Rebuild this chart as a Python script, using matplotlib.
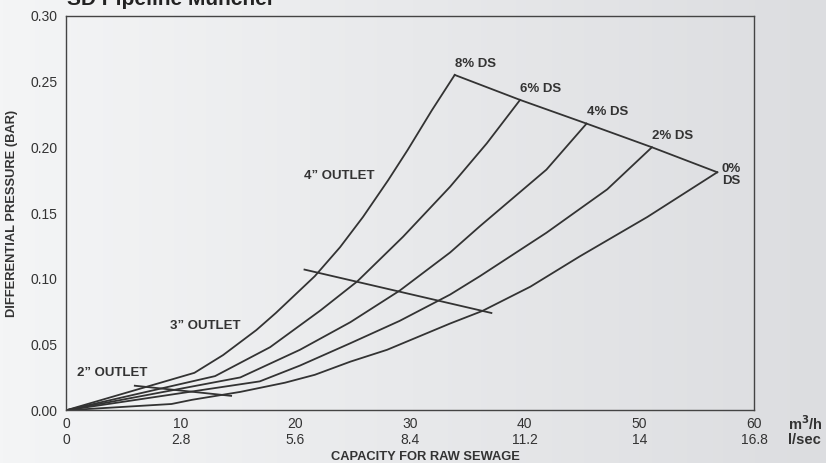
import numpy as np
import matplotlib
matplotlib.use('Agg')
import matplotlib.pyplot as plt

plt.rcParams['font.family'] = ['Liberation Sans', 'DejaVu Sans']

# capacity (m3/h) and differential pressure (bar)
x_8 = [0, 11.2, 13.7, 16.6, 18.3, 21.7, 23.9, 25.9, 28.1, 29.8, 31.9, 33.9]
y_8 = [0, 0.0285, 0.042, 0.061, 0.074, 0.102, 0.124, 0.147, 0.175, 0.198, 0.228, 0.255]
x_6 = [0, 13.0, 17.8, 22.2, 25.4, 29.4, 33.5, 36.7, 39.6]
y_6 = [0, 0.026, 0.048, 0.076, 0.098, 0.132, 0.170, 0.203, 0.236]
x_4 = [0, 15.2, 20.4, 24.8, 29.1, 33.5, 36.1, 41.9, 45.4]
y_4 = [0, 0.025, 0.046, 0.067, 0.091, 0.120, 0.140, 0.183, 0.218]
x_2 = [0, 16.9, 20.4, 24.8, 29.1, 33.5, 36.1, 41.9, 47.2, 51.1]
y_2 = [0, 0.022, 0.034, 0.051, 0.068, 0.088, 0.102, 0.135, 0.168, 0.200]
x_0 = [0, 9.2, 11.0, 15.2, 19.1, 21.7, 24.8, 28.0, 33.5, 36.3, 40.5, 44.8, 50.7, 56.8]
y_0 = [0, 0.0048, 0.008, 0.014, 0.021, 0.027, 0.037, 0.046, 0.066, 0.0755, 0.094, 0.117, 0.147, 0.181]
curves = [(x_8, y_8), (x_6, y_6), (x_4, y_4), (x_2, y_2), (x_0, y_0)]
ds_labels = ['8% DS', '6% DS', '4% DS', '2% DS', '0%\nDS']

outlet4_x = [20.8, 37.1]
outlet4_y = [0.107, 0.074]
outlet2_x = [6.0, 14.4]
outlet2_y = [0.0187, 0.011]

xticks = [0, 10, 20, 30, 40, 50, 60]
lsec = ['0', '2.8', '5.6', '8.4', '11.2', '14', '16.8']
yticks = [0.00, 0.05, 0.10, 0.15, 0.20, 0.25, 0.30]

ink = '#333333'
fig = plt.figure(figsize=(8.26, 4.63), dpi=100)

# grey gradient background
bg = fig.add_axes([0, 0, 1, 1], zorder=-10)
grad = np.linspace(0, 1, 256).reshape(1, -1)
bg.imshow(grad, aspect='auto', cmap=matplotlib.colors.LinearSegmentedColormap.from_list(
    'g', ['#f4f5f6', '#dcdde0']), extent=[0, 1, 0, 1])
bg.axis('off')

ax = fig.add_axes([0.0799, 0.1138, 0.8329, 0.8522])
ax.patch.set_alpha(0)
for c in curves:
    ax.plot(c[0], c[1], color=ink, lw=1.3)
ax.plot([c[0][-1] for c in curves], [c[1][-1] for c in curves], color=ink, lw=1.3)
ax.plot(outlet4_x, outlet4_y, color=ink, lw=1.3)
ax.plot(outlet2_x, outlet2_y, color=ink, lw=1.3)

for (cx, cy), lab in zip(curves, ds_labels):
    if '\n' in lab:
        ax.text(cx[-1] + 0.4, cy[-1] - 0.002, lab, fontsize=9.5, fontweight='bold',
                color=ink, va='center', ha='left', linespacing=1.0)
    else:
        ax.text(cx[-1], cy[-1] + 0.004, lab, fontsize=9.5, fontweight='bold',
                color=ink, va='bottom', ha='left')

ax.text(1.0, 0.028, '2” OUTLET', fontsize=9.5, fontweight='bold', color=ink, va='center')
ax.text(9.1, 0.064, '3” OUTLET', fontsize=9.5, fontweight='bold', color=ink, va='center')
ax.text(20.8, 0.178, '4” OUTLET', fontsize=9.5, fontweight='bold', color=ink, va='center')

ax.set_xlim(0, 60)
ax.set_ylim(0, 0.30)
ax.set_xticks(xticks)
ax.set_xticklabels(['%d\n%s' % (t, l) for t, l in zip(xticks, lsec)], linespacing=1.2)
ax.set_yticks(yticks)
ax.set_yticklabels(['%.2f' % t for t in yticks])
ax.tick_params(length=0, labelsize=10, colors=ink, pad=5)
ax.tick_params(axis='y', pad=6)
for s in ax.spines.values():
    s.set_color('#444444')
    s.set_linewidth(1.0)

ax.set_ylabel('DIFFERENTIAL PRESSURE (BAR)', fontsize=9.3, fontweight='bold', color=ink, labelpad=9)
fig.text(425 / 826, 1 - 457 / 463, 'CAPACITY FOR RAW SEWAGE', fontsize=9.3, fontweight='bold',
         color=ink, ha='center', va='center')
fig.text(788 / 826, 1 - 424 / 463, 'm$^{\\mathbf{3}}$/h', fontsize=10.5, fontweight='bold',
         color=ink, ha='left', va='center')
fig.text(788 / 826, 1 - 440 / 463, 'l/sec', fontsize=10.5, fontweight='bold',
         color=ink, ha='left', va='center')
fig.text(67 / 826, 1 - 5 / 463, 'SD Pipeline Muncher', fontsize=15, fontweight='bold',
         color='#222222', ha='left', va='baseline')

fig.savefig('out.png', dpi=100)
